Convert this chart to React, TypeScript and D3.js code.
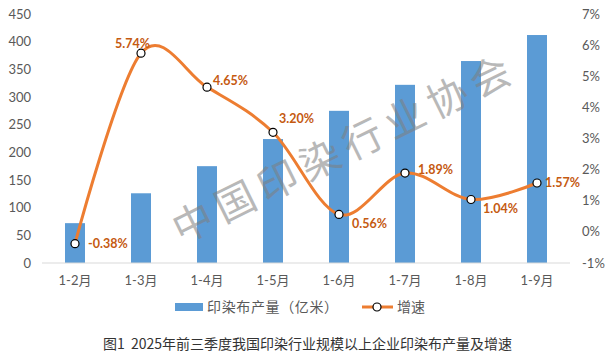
import React from "react";
import * as d3 from "d3";

const categories = ["1-2月", "1-3月", "1-4月", "1-5月", "1-6月", "1-7月", "1-8月", "1-9月"];
const output = [72, 126, 175, 224, 275, 322, 365, 412];
const growth = [-0.38, 5.74, 4.65, 3.2, 0.56, 1.89, 1.04, 1.57];
const leftTicks = [0, 50, 100, 150, 200, 250, 300, 350, 400, 450];
const rightTicks = [-1, 0, 1, 2, 3, 4, 5, 6, 7];
const barName = "印染布产量（亿米）";
const lineName = "增速";
const caption = "图1  2025年前三季度我国印染行业规模以上企业印染布产量及增速";
const watermark = "中国印染行业协会";

// label placement (layout only)
const labelOffsets: [number, number, string][] = [
  [13, 0, "start"],
  [9, -10, "end"],
  [6, -7, "start"],
  [6, -14, "start"],
  [13, 9, "start"],
  [13, -3, "start"],
  [12, 9, "start"],
  [8, 0, "start"],
];

const W = 616, H = 362;
const numFont = "Lato, 'Noto Sans CJK SC', sans-serif";
const cjkFont = "'Noto Sans CJK SC', sans-serif";

export default function App() {
  const x = d3.scaleBand<string>().domain(categories).range([42, 570]).paddingInner(0.697).paddingOuter(0.3485);
  const yL = d3.scaleLinear().domain([0, 450]).range([263, 14]);
  const yR = d3.scaleLinear().domain([-1, 7]).range([263, 14]);
  const cx = (c: string) => (x(c) as number) + x.bandwidth() / 2;
  const pts: [number, number][] = categories.map((c, i) => [cx(c), yR(growth[i])]);
  const line = d3.line().curve(d3.curveCatmullRom.alpha(0))(pts) as string;

  // watermark geometry
  const wmStart: [number, number] = [193, 223];
  const wmEnd: [number, number] = [490, 77];
  const ang = (Math.atan2(wmEnd[1] - wmStart[1], wmEnd[0] - wmStart[0]) * 180) / Math.PI;
  const n = watermark.length;

  return (
    <svg width={W} height={H} style={{ position: "absolute", left: 0, top: 0, background: "#fff" }}>
      <rect width={W} height={H} fill="#fff" />
      {/* bars */}
      {categories.map((c, i) => (
        <rect key={c} x={x(c)} y={yL(output[i])} width={x.bandwidth()} height={yL(0) - yL(output[i])} fill="#5B9BD5" />
      ))}
      {/* baseline */}
      <line x1={42} x2={570} y1={263} y2={263} stroke="#D9D9D9" strokeWidth={1} />
      {/* left ticks */}
      {leftTicks.map((t) => (
        <text key={t} x={31} y={yL(t)} dy="0.35em" textAnchor="end" fontSize={13} fill="#595959" fontFamily={numFont}>
          {t}
        </text>
      ))}
      {/* right ticks */}
      {rightTicks.map((t) => (
        <text key={t} x={582} y={yR(t)} dy="0.35em" textAnchor="start" fontSize={13} fill="#595959" fontFamily={numFont}>
          {t}%
        </text>
      ))}
      {/* x labels */}
      {categories.map((c) => (
        <text key={c} x={cx(c)} y={280} dy="0.35em" textAnchor="middle" fontSize={13} fill="#595959" fontFamily={numFont}>
          {c}
        </text>
      ))}
      {/* watermark */}
      {watermark.split("").map((ch, i) => {
        const px = wmStart[0] + ((wmEnd[0] - wmStart[0]) * i) / (n - 1);
        const py = wmStart[1] + ((wmEnd[1] - wmStart[1]) * i) / (n - 1);
        return (
          <text key={i} x={px} y={py} dy="0.35em" textAnchor="middle" fontSize={40} fill="#7f7f7f" opacity={0.55}
            fontFamily={cjkFont} transform={`rotate(${ang} ${px} ${py})`}>
            {ch}
          </text>
        );
      })}
      {/* line */}
      <path d={line} fill="none" stroke="#ED7D31" strokeWidth={3} strokeLinecap="round" />
      {pts.map((p, i) => (
        <circle key={i} cx={p[0]} cy={p[1]} r={4} fill="#fff" stroke="#000" strokeWidth={1.2} />
      ))}
      {pts.map((p, i) => (
        <text key={i} x={p[0] + labelOffsets[i][0]} y={p[1] + labelOffsets[i][1]} dy="0.35em"
          textAnchor={labelOffsets[i][2] as any} fontSize={12.5} fontWeight="bold" fill="#C55A11" fontFamily={numFont}>
          {growth[i].toFixed(2)}%
        </text>
      ))}
      {/* legend */}
      <rect x={175} y={303} width={28} height={8} fill="#5B9BD5" />
      <text x={207} y={307} dy="0.35em" fontSize={14} fill="#595959" fontFamily={cjkFont} textLength={131} lengthAdjust="spacing">{barName}</text>
      <line x1={362} x2={393} y1={307} y2={307} stroke="#ED7D31" strokeWidth={3} />
      <circle cx={377} cy={307} r={4} fill="#fff" stroke="#000" strokeWidth={1.2} />
      <text x={397} y={307} dy="0.35em" fontSize={14} fill="#595959" fontFamily={cjkFont}>{lineName}</text>
      {/* caption */}
      <text x={103} y={344} dy="0.35em" fontSize={14} fill="#333" fontFamily={cjkFont} style={{ whiteSpace: "pre" }}>
        {caption}
      </text>
    </svg>
  );
}
